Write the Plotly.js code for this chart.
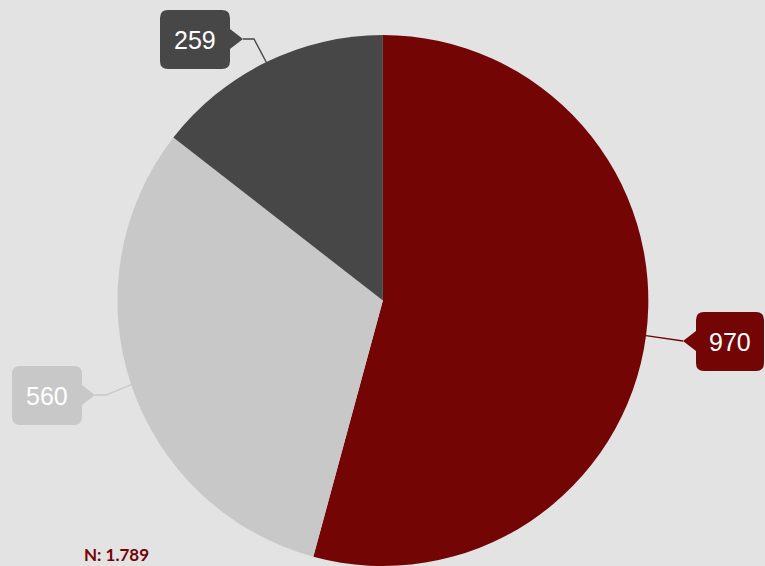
<!DOCTYPE html>
<html>
<head>
<meta charset="utf-8">
<script src="https://cdn.plot.ly/plotly-3.0.1.min.js"></script>
<style>
html,body{margin:0;padding:0;overflow:hidden;background:#e3e3e3;}
#chart{width:765px;height:566px;}
</style>
</head>
<body>
<div id="chart"></div>
<script>
// Data
const categories = ["A", "B", "C"];
const values = [970, 560, 259];
const colors = ["#730505", "#c8c8c8", "#474747"];
const totalLabel = "N: 1.789";

// Layout helpers
const W = 765, H = 566;
const domX = [0.152, 0.849], domY = [0, 0.938];
const cx = (domX[0] + domX[1]) / 2 * W;
const cy = H - (domY[0] + domY[1]) / 2 * H;
const R = Math.min((domX[1] - domX[0]) * W, (domY[1] - domY[0]) * H) / 2;
const px = x => x / W;
const py = y => 1 - y / H;

// label callout layout: pointer tip, elbow, box, side of pointer
const callouts = [
  {tip: [683, 341], elbow: null, box: [696, 312, 764, 371], side: "left"},
  {tip: [95, 395], elbow: [106, 395], box: [12, 366, 82, 425], side: "right"},
  {tip: [243, 39], elbow: [254, 39], box: [160, 10, 230, 69], side: "right"}
];

function P(x, y) { return px(x).toFixed(5) + "," + py(y).toFixed(5); }

function calloutPath(c) {
  const [x0, y0, x1, y1] = c.box;
  const r = 8, h = 10;
  const [tx, ty] = c.tip;
  let d = "M" + P(x0 + r, y0);
  d += " L" + P(x1 - r, y0) + " Q" + P(x1, y0) + " " + P(x1, y0 + r);
  if (c.side === "right") {
    d += " L" + P(x1, ty - h) + " L" + P(tx, ty) + " L" + P(x1, ty + h);
  }
  d += " L" + P(x1, y1 - r) + " Q" + P(x1, y1) + " " + P(x1 - r, y1);
  d += " L" + P(x0 + r, y1) + " Q" + P(x0, y1) + " " + P(x0, y1 - r);
  if (c.side === "left") {
    d += " L" + P(x0, ty + h) + " L" + P(tx, ty) + " L" + P(x0, ty - h);
  }
  d += " L" + P(x0, y0 + r) + " Q" + P(x0, y0) + " " + P(x0 + r, y0) + " Z";
  return d;
}

const total = values.reduce((a, b) => a + b, 0);
const shapes = [];
const annotations = [];
let cum = 0;
values.forEach((v, i) => {
  const mid = (cum + v / 2) / total * 2 * Math.PI;
  cum += v;
  const ex = cx + R * Math.sin(mid);
  const ey = cy - R * Math.cos(mid);
  const c = callouts[i];
  let d = "M" + P(ex, ey);
  if (c.elbow) d += " L" + P(c.elbow[0], c.elbow[1]);
  d += " L" + P(c.tip[0], c.tip[1]);
  shapes.push({type: "path", xref: "paper", yref: "paper", path: d,
    line: {color: colors[i], width: 1.3}, layer: "above"});
  shapes.push({type: "path", xref: "paper", yref: "paper", path: calloutPath(c),
    fillcolor: colors[i], line: {width: 0}, layer: "above"});
  annotations.push({xref: "paper", yref: "paper",
    x: px((c.box[0] + c.box[2]) / 2), y: py((c.box[1] + c.box[3]) / 2),
    xanchor: "center", yanchor: "middle", showarrow: false,
    text: String(v), font: {family: "Liberation Sans, Arial, sans-serif", size: 25, color: "#ffffff"}});
});

annotations.push({xref: "paper", yref: "paper", x: px(82), y: py(554),
  xanchor: "left", yanchor: "middle", showarrow: false, text: "<b>" + totalLabel + "</b>",
  font: {family: "Lato, sans-serif", size: 17, color: "#730505"}});

const trace = {
  type: "pie",
  labels: categories,
  values: values,
  sort: false,
  direction: "clockwise",
  rotation: 0,
  textinfo: "none",
  hoverinfo: "label+value",
  marker: {colors: colors, line: {width: 0}},
  domain: {x: domX, y: domY},
  showlegend: false
};

const layout = {
  width: W, height: H,
  margin: {l: 0, r: 0, t: 0, b: 0},
  paper_bgcolor: "#e3e3e3",
  plot_bgcolor: "#e3e3e3",
  showlegend: false,
  shapes: shapes,
  annotations: annotations
};

Plotly.newPlot("chart", [trace], layout, {displayModeBar: false, staticPlot: true});
</script>
</body>
</html>
